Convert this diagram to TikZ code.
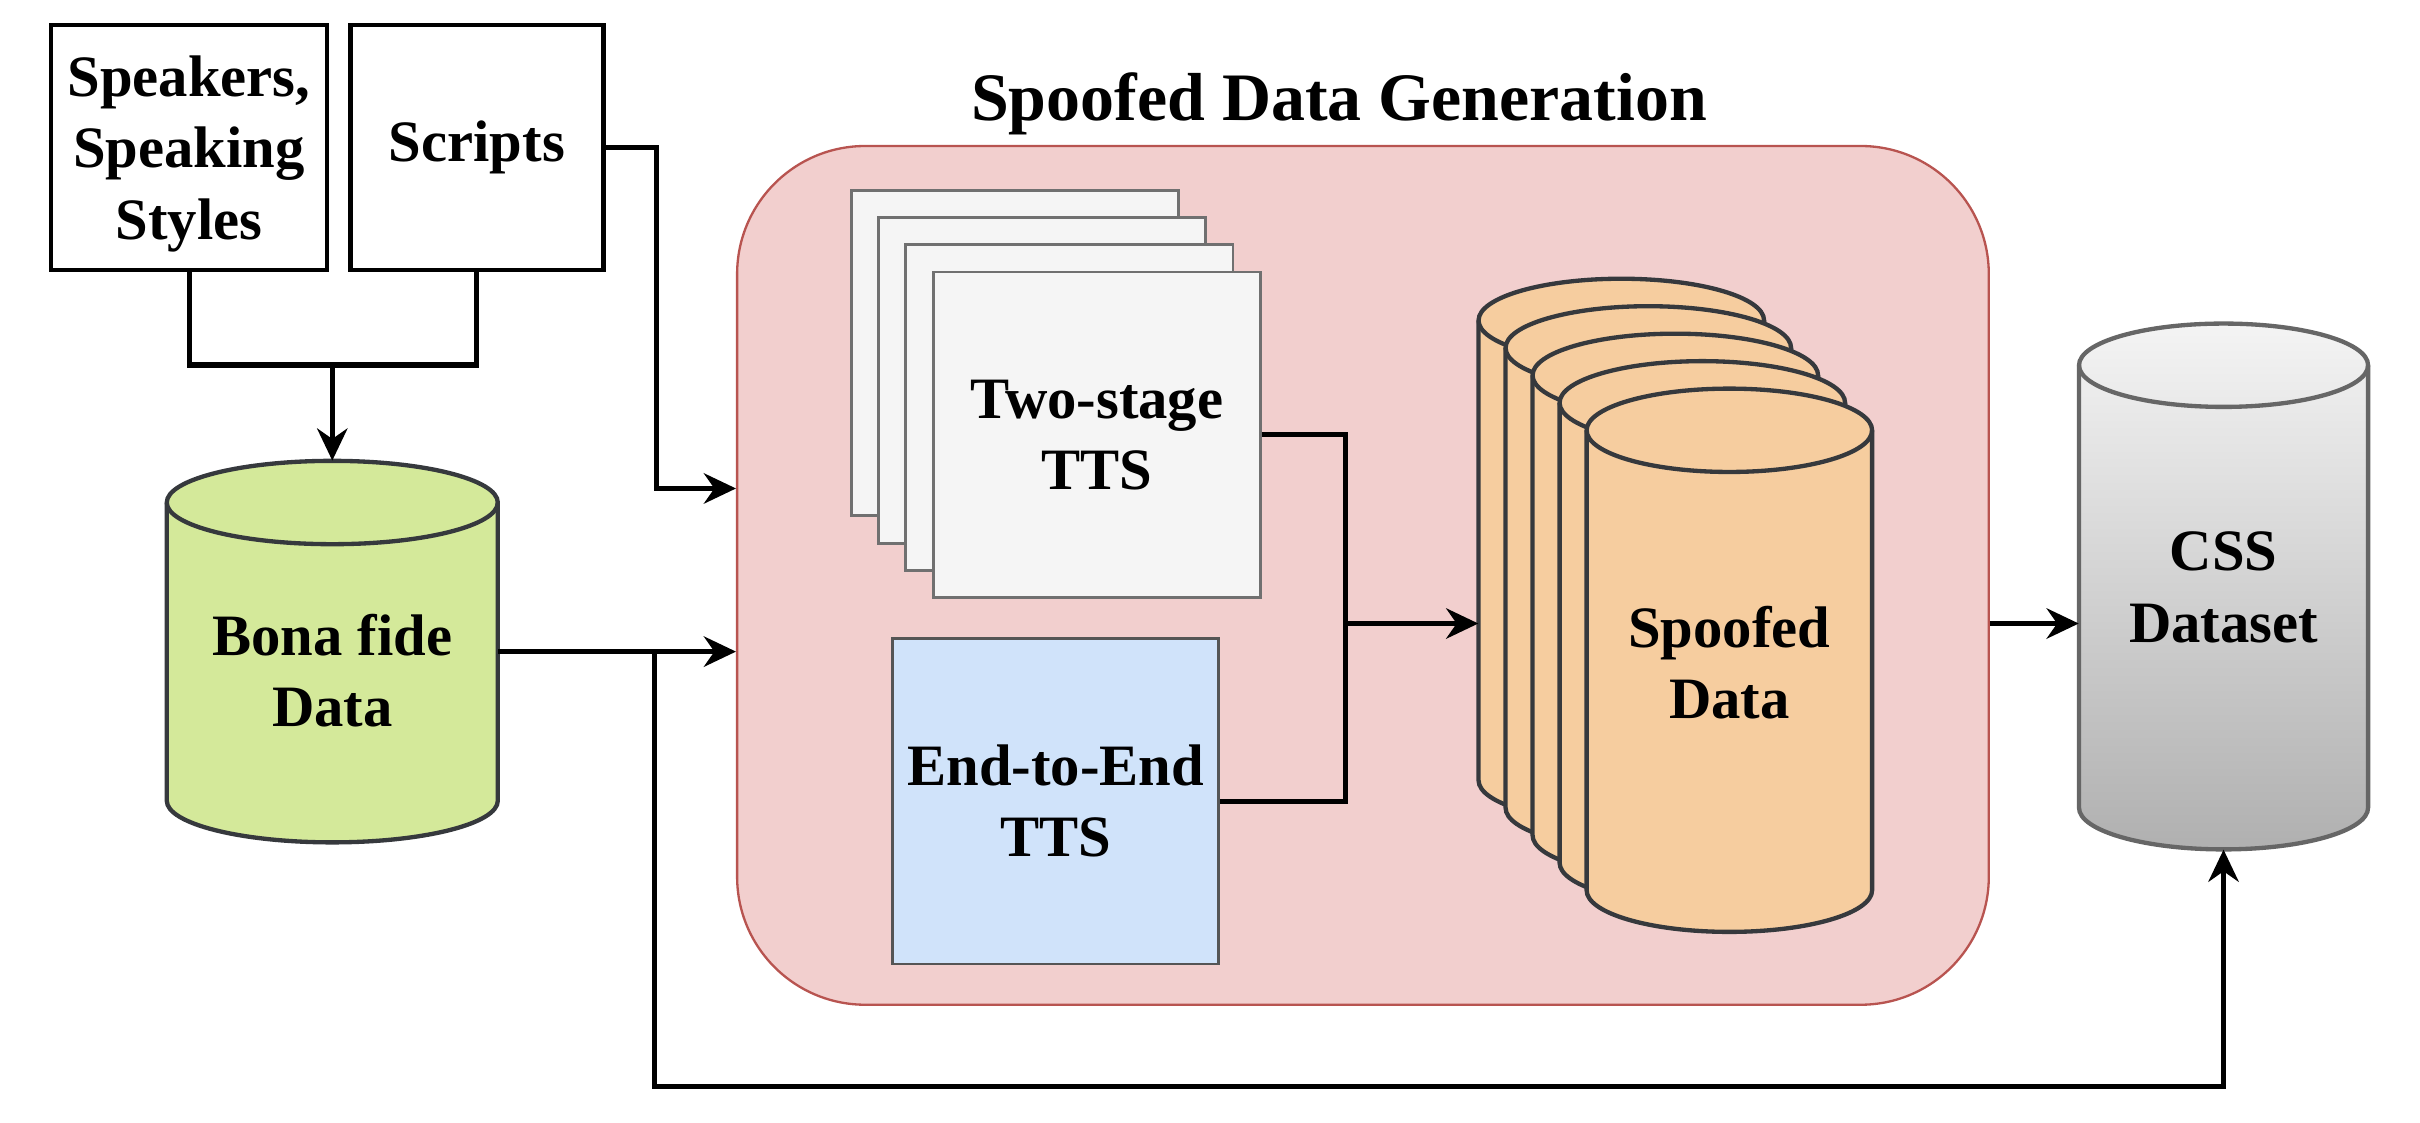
\documentclass[tikz,border=0pt]{standalone}
\usepackage{fontspec}
\setmainfont{Liberation Serif}
\usetikzlibrary{positioning, arrows.meta}
\usepackage{xcolor}
\definecolor{BonaGreen}{HTML}{D4E99A}
\definecolor{SpoofOrange}{HTML}{F6CD9F}
\definecolor{GenPink}{HTML}{F2CFCE}
\definecolor{GenLine}{HTML}{B85450}
\definecolor{TtsGray}{HTML}{F5F5F5}
\definecolor{TtsLine}{HTML}{707070}
\definecolor{EteBlue}{HTML}{D0E3FA}
\definecolor{EteLine}{HTML}{555555}
\definecolor{CylLine}{HTML}{36393D}
\definecolor{CssTop}{HTML}{F4F4F4}
\definecolor{CssBottom}{HTML}{B0B0B0}
\definecolor{CssLine}{HTML}{666666}

% cylinder: fill style, edge style, name, x, y, width, height
\newcommand{\dbcyl}[7]{%
  \path[#1,#2] ({#4-#6/2},{#5-#7/2+27}) arc[start angle=180, end angle=360, x radius={#6/2}, y radius=27]
    -- ({#4+#6/2},{#5+#7/2-27}) arc[start angle=0, end angle=180, x radius={#6/2}, y radius=27] -- cycle;
  \draw[#2] ({#4-#6/2},{#5+#7/2-27}) arc[start angle=180, end angle=360, x radius={#6/2}, y radius=27];
  \node[dbnode, minimum width=#6pt, minimum height=#7pt] (#3) at (#4,#5) {};
}

\begin{document}
\begin{tikzpicture}[
            x=1pt, y=1pt,
            lbl/.style={font=\fontsize{38}{46.3}\selectfont\bfseries, align=center},
            srcbox/.style={lbl, draw=black, line width=2.8pt, minimum height=159pt, inner sep=0pt},
            genbox/.style={draw=GenLine, fill=GenPink, line width=1.5pt, rounded corners=83pt, minimum width=811pt, minimum height=556.4pt},
            ttsbox/.style={draw=TtsLine, fill=TtsGray, line width=1.8pt, minimum width=212pt, minimum height=211pt, inner sep=0pt},
            etebox/.style={lbl, draw=EteLine, fill=EteBlue, line width=1.8pt, minimum width=211.4pt, minimum height=211pt, inner sep=0pt},
            dbnode/.style={inner sep=0pt, draw=none},
            cyledge/.style={draw=CylLine, line width=2.8pt},
            cssedge/.style={draw=CssLine, line width=2.8pt},
            bonacyl/.style={fill=BonaGreen},
            spoofcyl/.style={fill=SpoofOrange},
            csscyl/.style={top color=CssTop, bottom color=CssBottom},
            wire/.style={line width=3.3pt},
            arrow/.style={-{Stealth[length=21pt, width=20pt, inset=7pt, line width=1pt]}, line width=3.3pt}
        ]
            \useasboundingbox (0,0) rectangle (1568,-727);

            \node[srcbox, minimum width=179pt, text depth=0pt] (speakers) at (122.5,-95.5) {Speakers,\\Speaking\\Styles};
            \node[srcbox, minimum width=164pt] (scripts) at (309,-95.5) {Scripts};

            \node[genbox] (gen) at (883.1,-372.8) {};
            \node[font=\fontsize{44}{50}\selectfont\bfseries, anchor=base] (gentitle) at (867.6,-77.8) {Spoofed Data Generation};

            % stacked two-stage models
            \foreach \i in {0,1,2}
                \node[ttsbox] (ttsbg\i) at ({657.5+17.7*\i},{-228.7-17.7*\i}) {};
            \node[ttsbox, lbl] (tts) at (710.6,-281.8) {Two-stage\\TTS};
            \node[etebox] (ete) at (684,-519.1) {End-to-End\\TTS};

            % databases
            \dbcyl{bonacyl}{cyledge}{bona}{215.3}{-422.2}{214.5}{247.2}
            \node[lbl] (bonatxt) at (215.3,-434.5) {Bona fide\\Data};

            \foreach \i in {0,...,4}{
                \pgfmathsetmacro\cx{1050.5+17.5*\i}
                \pgfmathsetmacro\cy{-356.6-17.8*\i}
                \dbcyl{spoofcyl}{cyledge}{sp\i}{\cx}{\cy}{185}{352}
            }
            \node[lbl] (spooftxt) at (1120.5,-429.3) {Spoofed\\Data};

            \dbcyl{csscyl}{cssedge}{css}{1440.7}{-380}{187.3}{340.7}
            \node[lbl] (csstxt) at (1440.7,-380.5) {CSS\\Dataset};

            % connectors
            \coordinate (join) at (215.3,-236.5);
            \draw[wire] (speakers.south) |- (join) -| (scripts.south);
            \draw[arrow] (join) -- (bona.north);
            \draw[arrow] (scripts.east) -- ++(33,0) |- ([yshift=56.3pt]gen.west);
            \draw[arrow] (bona.east) -- (bona.east -| gen.west);
            \coordinate (split) at (424,-422.2);
            \draw[arrow] (split) -- ++(0,-281.8) -| (css.south);
            \coordinate (merge) at (872,-404);
            \draw[wire] (tts.east) -| (merge) |- (ete.east);
            \draw[arrow] (merge) -- (merge -| sp0.west);
            \draw[arrow] ([yshift=-31.2pt]gen.east) coordinate (out) -- (out -| css.west);
        \end{tikzpicture}
\end{document}
